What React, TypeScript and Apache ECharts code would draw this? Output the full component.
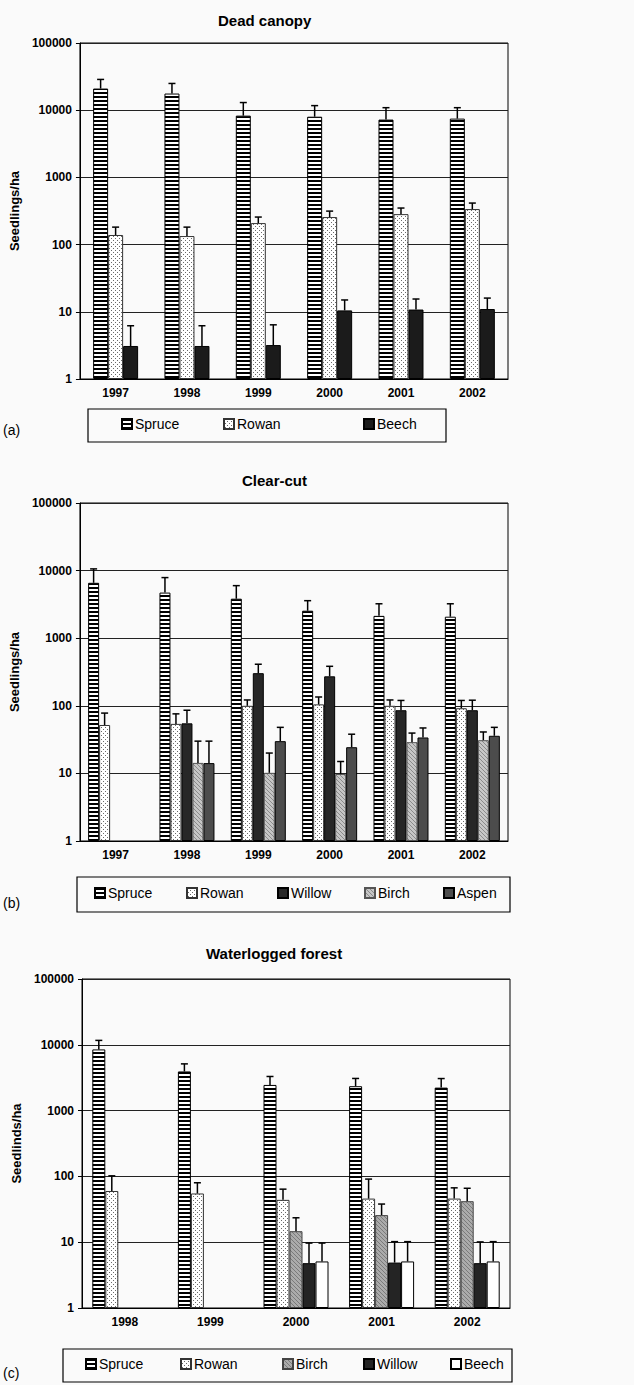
import React, { useEffect, useRef } from 'react';
import * as echarts from 'echarts';

// ---------- data ----------
const yTickLabels = ['1', '10', '100', '1000', '10000', '100000'];

const yearsA = ['1997', '1998', '1999', '2000', '2001', '2002'];
const spruceA = [21000, 17700, 8300, 8000, 7250, 7500];
const spruceAErr = [28700, 25000, 13000, 11700, 10900, 10900];
const rowanA = [139, 134, 209, 257, 284, 338];
const rowanAErr = [182, 182, 257, 315, 350, 415];
const beechA = [3.1, 3.1, 3.2, 10.5, 10.8, 11];
const beechAErr = [6.2, 6.2, 6.4, 15, 15.5, 16];

const yearsB = ['1997', '1998', '1999', '2000', '2001', '2002'];
const spruceB = [6600, 4730, 3840, 2550, 2140, 2080];
const spruceBErr = [10600, 7880, 5990, 3590, 3230, 3230];
const rowanB = [52, 54, 100, 105, 100, 92];
const rowanBErr = [78, 76, 122, 135, 122, 120];
const willowB = [null, 55, 304, 273, 86, 86];
const willowBErr = [null, 86, 412, 384, 120, 121];
const birchB = [null, 14.3, 10.2, 9.8, 29, 31];
const birchBErr = [null, 30, 20, 15, 39.5, 41];
const aspenB = [null, 14.2, 30, 24.4, 34, 36];
const aspenBErr = [null, 30, 48, 38, 47, 48];

const yearsC = ['1998', '1999', '2000', '2001', '2002'];
const spruceC = [8510, 3935, 2455, 2350, 2235];
const spruceCErr = [11670, 5130, 3300, 3080, 3070];
const rowanC = [60, 55, 44, 46, 46];
const rowanCErr = [102, 80, 64, 91, 67];
const birchC = [null, null, 14.7, 25.8, 42];
const birchCErr = [null, null, 23.5, 38, 66];
const willowC = [null, null, 4.8, 4.9, 4.8];
const willowCErr = [null, null, 9.7, 10.2, 10.1];
const beechC = [null, null, 5.1, 5.1, 5.1];
const beechCErr = [null, null, 9.7, 10.2, 10.2];

// ---------- styling helpers ----------
const FONT = '"Liberation Sans", Arial, sans-serif';

function tile(w: number, h: number, draw: (ctx: CanvasRenderingContext2D) => void) {
  const c = document.createElement('canvas');
  c.width = w;
  c.height = h;
  const ctx = c.getContext('2d')!;
  draw(ctx);
  return { image: c, repeat: 'repeat', imageWidth: w, imageHeight: h } as any;
}

function makeFills() {
  return {
    spruce: tile(4, 4, (ctx) => {
      ctx.fillStyle = '#fff';
      ctx.fillRect(0, 0, 4, 4);
      ctx.fillStyle = '#000';
      ctx.fillRect(0, 0, 4, 2);
    }),
    rowan: tile(4, 4, (ctx) => {
      ctx.fillStyle = '#fff';
      ctx.fillRect(0, 0, 4, 4);
      ctx.fillStyle = '#6a6a6a';
      ctx.fillRect(1, 0, 1, 1);
      ctx.fillRect(3, 2, 1, 1);
    }),
    birchB: tile(4, 4, (ctx) => {
      ctx.fillStyle = '#c6c6c6';
      ctx.fillRect(0, 0, 4, 4);
      ctx.fillStyle = '#8a8a8a';
      for (let i = 0; i < 4; i++) ctx.fillRect(i, i, 1, 1);
    }),
    birchC: tile(4, 4, (ctx) => {
      ctx.fillStyle = '#ababab';
      ctx.fillRect(0, 0, 4, 4);
      ctx.fillStyle = '#7a7a7a';
      for (let i = 0; i < 4; i++) ctx.fillRect(i, i, 1, 1);
    }),
    beechA: '#1b1b1b',
    willowB: '#272727',
    aspenB: '#4c4c4c',
    willowC: '#242424',
    beechC: '#ffffff',
  };
}

type SeriesDef = { name: string; values: (number | null)[]; errs: (number | null)[]; fill: any; border?: string };

type PanelCfg = {
  top: number;
  height: number;
  title: string;
  titleLeft: number;
  titleTop: number;
  years: string[];
  series: SeriesDef[];
  barWidth: number;
  grid: { left: number; top: number; width: number; height: number };
  yName: string;
  nameGap: number;
  legendBox: { x: number; y: number; w: number; h: number };
  legendX: number[];
  legendY: number;
  tag: string;
  tagY: number;
};

function buildOption(cfg: PanelCfg) {
  const n = cfg.series.length;
  const bars = cfg.series.map((s) => ({
    type: 'bar',
    name: s.name,
    data: s.values,
    barWidth: cfg.barWidth,
    barGap: '0%',
    itemStyle: { color: s.fill, borderColor: s.border || '#000', borderWidth: 1 },
    emphasis: { disabled: true },
    z: 2,
  }));
  const errs = cfg.series.map((s, si) => {
    const offset = (si - (n - 1) / 2) * cfg.barWidth;
    const data: number[][] = [];
    s.values.forEach((v, i) => {
      const e = s.errs[i];
      if (v != null && e != null) data.push([i, v, e]);
    });
    return {
      type: 'custom',
      name: s.name + ' error',
      data,
      z: 4,
      silent: true,
      renderItem: (params: any, api: any) => {
        const base = api.coord([api.value(0), api.value(1)]);
        const top = api.coord([api.value(0), api.value(2)]);
        const cx = base[0] + offset;
        const st = { stroke: '#000', lineWidth: 1.5 };
        return {
          type: 'group',
          children: [
            { type: 'line', shape: { x1: cx, y1: base[1], x2: cx, y2: top[1] }, style: st },
            { type: 'line', shape: { x1: cx - 3.5, y1: top[1], x2: cx + 3.5, y2: top[1] }, style: st },
          ],
        };
      },
    };
  });

  const legends = cfg.series.map((s, i) => ({
    data: [s.name],
    left: cfg.legendX[i],
    top: cfg.legendY - 8,
    icon: 'rect',
    itemWidth: 10,
    itemHeight: 10,
    padding: 0,
    selectedMode: false,
    textStyle: { fontSize: 14, color: '#000', fontFamily: FONT, padding: [0, 0, 0, -2] },
  }));

  return {
    animation: false,
    backgroundColor: 'transparent',
    title: {
      text: cfg.title,
      left: cfg.titleLeft,
      top: cfg.titleTop,
      padding: 0,
      textStyle: { fontSize: 15, fontWeight: 'bold', color: '#000', fontFamily: FONT },
    },
    legend: legends,
    grid: {
      ...cfg.grid,
      show: true,
      borderColor: '#000',
      borderWidth: 1,
      backgroundColor: 'transparent',
    },
    xAxis: {
      type: 'category',
      data: cfg.years,
      axisLine: { lineStyle: { color: '#000', width: 1 } },
      axisTick: { show: false },
      axisLabel: { color: '#000', fontSize: 12, fontWeight: 'bold', fontFamily: FONT, margin: 8 },
      splitLine: { show: false },
    },
    yAxis: {
      type: 'log',
      logBase: 10,
      min: 1,
      max: 100000,
      name: cfg.yName,
      nameLocation: 'middle',
      nameGap: cfg.nameGap,
      nameTextStyle: { fontSize: 13, fontWeight: 'bold', color: '#000', fontFamily: FONT },
      axisLine: { show: true, lineStyle: { color: '#000', width: 1 } },
      axisTick: { show: true, length: 4, lineStyle: { color: '#000' } },
      axisLabel: {
        color: '#000',
        fontSize: 12,
        fontWeight: 'bold',
        fontFamily: FONT,
        margin: 8,
        formatter: (v: number) => yTickLabels[Math.round(Math.log10(v))] ?? String(Math.round(v)),
      },
      splitLine: { show: true, lineStyle: { color: '#222', width: 1 } },
    },
    graphic: [
      {
        type: 'rect',
        shape: { x: cfg.legendBox.x, y: cfg.legendBox.y, width: cfg.legendBox.w, height: cfg.legendBox.h },
        style: { fill: 'none', stroke: '#000', lineWidth: 1.2 },
        z: 0,
      },
      {
        type: 'text',
        x: 3,
        y: cfg.tagY,
        style: { text: cfg.tag, fill: '#000', fontSize: 14, fontFamily: FONT, verticalAlign: 'middle' },
      },
    ],
    series: [...bars, ...errs],
  };
}

function Panel({ cfg }: { cfg: PanelCfg }) {
  const ref = useRef<HTMLDivElement>(null);
  useEffect(() => {
    const chart = echarts.init(ref.current!, null, { renderer: 'svg' });
    chart.setOption(buildOption(cfg) as any);
    return () => chart.dispose();
  }, []);
  return <div ref={ref} style={{ position: 'absolute', left: 0, top: cfg.top, width: 634, height: cfg.height }} />;
}

export default function App() {
  const f = makeFills();
  const panels: PanelCfg[] = [
    {
      top: 0,
      height: 455,
      title: 'Dead canopy',
      titleLeft: 218,
      titleTop: 13,
      years: yearsA,
      series: [
        { name: 'Spruce', values: spruceA, errs: spruceAErr, fill: f.spruce },
        { name: 'Rowan', values: rowanA, errs: rowanAErr, fill: f.rowan, border: '#333' },
        { name: 'Beech', values: beechA, errs: beechAErr, fill: f.beechA },
      ],
      barWidth: 15,
      grid: { left: 70, top: 43, width: 438, height: 336 },
      yName: 'Seedlings/ha',
      nameGap: 44,
      legendBox: { x: 88, y: 409, w: 358, h: 33 },
      legendX: [121, 223, 363],
      legendY: 425,
      tag: '(a)',
      tagY: 430,
    },
    {
      top: 455,
      height: 465,
      title: 'Clear-cut',
      titleLeft: 242,
      titleTop: 18,
      years: yearsB,
      series: [
        { name: 'Spruce', values: spruceB, errs: spruceBErr, fill: f.spruce },
        { name: 'Rowan', values: rowanB, errs: rowanBErr, fill: f.rowan, border: '#333' },
        { name: 'Willow', values: willowB, errs: willowBErr, fill: f.willowB },
        { name: 'Birch', values: birchB, errs: birchBErr, fill: f.birchB, border: '#555' },
        { name: 'Aspen', values: aspenB, errs: aspenBErr, fill: f.aspenB },
      ],
      barWidth: 11,
      grid: { left: 76, top: 48, width: 432, height: 338 },
      yName: 'Seedlings/ha',
      nameGap: 49,
      legendBox: { x: 77, y: 422, w: 433, h: 35 },
      legendX: [94, 186, 277, 364, 443],
      legendY: 439,
      tag: '(b)',
      tagY: 448,
    },
    {
      top: 920,
      height: 465,
      title: 'Waterlogged forest',
      titleLeft: 206,
      titleTop: 26,
      years: yearsC,
      series: [
        { name: 'Spruce', values: spruceC, errs: spruceCErr, fill: f.spruce },
        { name: 'Rowan', values: rowanC, errs: rowanCErr, fill: f.rowan, border: '#333' },
        { name: 'Birch', values: birchC, errs: birchCErr, fill: f.birchC, border: '#444' },
        { name: 'Willow', values: willowC, errs: willowCErr, fill: f.willowC },
        { name: 'Beech', values: beechC, errs: beechCErr, fill: f.beechC },
      ],
      barWidth: 13,
      grid: { left: 82, top: 59, width: 428, height: 329 },
      yName: 'Seedlinds/ha',
      nameGap: 45,
      legendBox: { x: 63, y: 429, w: 449, h: 33 },
      legendX: [85, 180, 282, 363, 450],
      legendY: 445,
      tag: '(c)',
      tagY: 453,
    },
  ];
  return (
    <div style={{ position: 'absolute', left: 0, top: 0, width: 634, height: 1385, background: '#fafafa', overflow: 'hidden' }}>
      {panels.map((p, i) => (
        <Panel key={i} cfg={p} />
      ))}
    </div>
  );
}
